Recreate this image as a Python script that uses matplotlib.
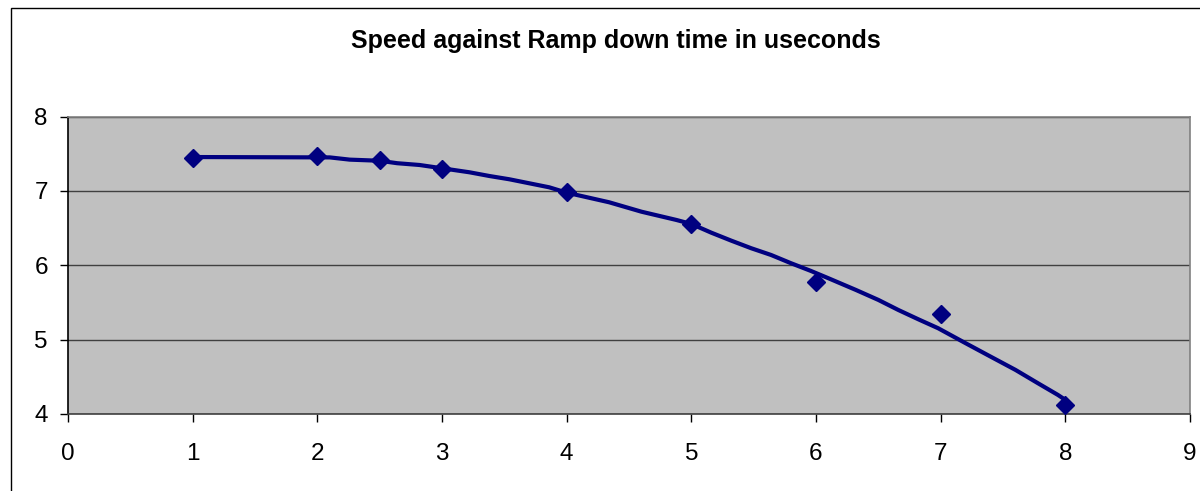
import matplotlib
matplotlib.use("Agg")
import matplotlib.pyplot as plt
from matplotlib.patches import Rectangle

# measured points
ramp_time = [1, 2, 2.5, 3, 4, 5, 6, 7, 8]
speed = [7.44, 7.47, 7.41, 7.30, 6.98, 6.56, 5.78, 5.35, 4.12]

# smoothed line as drawn in the chart
curve_x = [1, 2.10, 2.26, 2.50, 2.64, 2.82, 3.00, 3.22, 3.38, 3.54, 3.70, 3.86,
           4.00, 4.34, 4.60, 4.88, 5.00, 5.16, 5.32, 5.48, 5.64, 5.80, 5.96,
           6.10, 6.32, 6.50, 6.66, 6.82, 6.98, 7.20, 7.40, 7.60, 7.78, 7.94, 8.00]
curve_y = [7.455, 7.450, 7.420, 7.405, 7.372, 7.348, 7.304, 7.250, 7.200, 7.156,
           7.102, 7.048, 6.976, 6.847, 6.720, 6.609, 6.555, 6.438, 6.331, 6.229,
           6.138, 6.027, 5.923, 5.825, 5.668, 5.534, 5.399, 5.274, 5.153, 4.952,
           4.772, 4.593, 4.414, 4.257, 4.190]

plt.rcParams['font.family'] = ['Liberation Sans', 'DejaVu Sans']
navy = '#000080'

fig = plt.figure(figsize=(12, 4.91), dpi=100)
ax = fig.add_axes([68 / 1200, 1 - 414 / 491, 1122 / 1200, 297.5 / 491])
ax.set_facecolor('#C0C0C0')

ax.plot(curve_x, curve_y, color=navy, lw=3, zorder=3, solid_joinstyle='round')
ax.plot(ramp_time, speed, linestyle='none', marker='D', color=navy, ms=9, zorder=4)

ax.set_xlim(0, 9)
ax.set_ylim(4, 8)
ax.set_xticks(range(0, 10))
ax.set_yticks([4, 5, 6, 7, 8])
ax.grid(axis='y', color='#404040', lw=1)
ax.set_axisbelow(True)
ax.tick_params(labelsize=17.5, length=6, width=1, color='black', direction='out')
ax.tick_params(axis='x', pad=15)
ax.tick_params(axis='y', pad=8.5)

ax.spines['left'].set_color('black')
ax.spines['bottom'].set_color('#404040')
for s in ('top', 'right'):
    ax.spines[s].set_color('#808080')
for s in ax.spines.values():
    s.set_linewidth(1.2)

fig.text(616 / 1200, 1 - 48 / 491, 'Speed against Ramp down time in useconds',
         ha='center', va='baseline', fontsize=18, fontweight='bold')

# chart area border (runs off the right and bottom edges in the original)
fig.patches.append(Rectangle((10.5 / 1200, -10 / 491), 1300 / 1200, (491 - 7.5 + 10) / 491,
                             transform=fig.transFigure, fill=False,
                             edgecolor='black', lw=1))

fig.savefig('out.png', dpi=100)
